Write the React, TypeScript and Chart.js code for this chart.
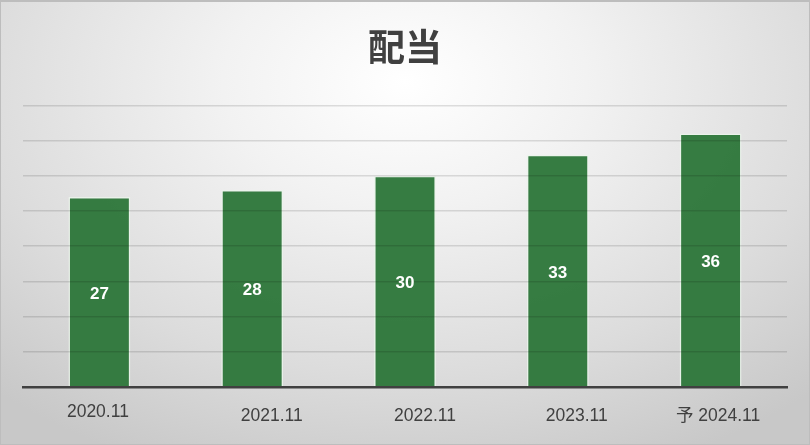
import React, { useEffect, useRef } from "react";
import { Chart, registerables } from "chart.js";

Chart.register(...registerables);

const title = "配当";
const categories = ["2020.11", "2021.11", "2022.11", "2023.11", "予 2024.11"];
const dividends = [27, 28, 30, 33, 36];
const yMax = 40;
const yStep = 5;

// label placement quirks of the original (pixels relative to the tick)
const labelShiftX = [-1.5, 19.5, 20, 19, 7.5];
const labelShiftY = [0, 4.3, 4.3, 4.3, 4.3];

export default function App() {
  const ref = useRef<HTMLCanvasElement | null>(null);

  useEffect(() => {
    document.body.style.margin = "0";
    const canvas = ref.current;
    if (!canvas) return;

    const labelPlugin = {
      id: "customLabels",
      afterDraw(chart: any) {
        const ctx = chart.ctx;
        const xs = chart.scales.x;
        ctx.save();
        ctx.fillStyle = "#404040";
        ctx.font = '17.5px "Liberation Sans", Arial, "Noto Sans CJK JP", sans-serif';
        ctx.textAlign = "center";
        ctx.textBaseline = "middle";
        categories.forEach((c, i) => {
          const x = xs.getPixelForTick(i) + labelShiftX[i];
          const y = chart.chartArea.bottom + 25 + labelShiftY[i];
          ctx.fillText(c, x, y);
        });
        const meta = chart.getDatasetMeta(0);
        ctx.fillStyle = "#ffffff";
        ctx.font = 'bold 17px "Liberation Sans", Arial, sans-serif';
        meta.data.forEach((bar: any, i: number) => {
          const { x, y, base } = bar.getProps(["x", "y", "base"], true);
          ctx.fillText(String(dividends[i]), x, (y + base) / 2 + 2.5);
        });
        ctx.restore();
      },
    };

    const chart = new Chart(canvas, {
      type: "bar",
      data: {
        labels: categories,
        datasets: [
          {
            data: dividends,
            backgroundColor: "rgba(48,120,60,0.97)",
            borderColor: "rgba(235,245,235,0.85)",
            borderWidth: { top: 1.5, left: 1.5, right: 1.5, bottom: 0 },
            borderSkipped: "bottom",
            barPercentage: 0.405,
            categoryPercentage: 1,
          },
        ],
      },
      options: {
        responsive: false,
        animation: false,
        devicePixelRatio: 1,
        layout: { padding: { left: 23, right: 23, top: 0, bottom: 0 } },
        plugins: {
          legend: { display: false },
          tooltip: { enabled: false },
          title: {
            display: true,
            text: title,
            color: "#404040",
            font: { family: '"Noto Sans CJK JP", sans-serif', size: 37, weight: "bold" },
            padding: { top: 25, bottom: 36 },
          },
        },
        scales: {
          x: {
            ticks: { display: false },
            grid: { display: false },
            border: { display: true, color: "#404040", width: 2.5, z: 1 },
            afterFit: (s: any) => {
              s.height = 58;
            },
          },
          y: {
            min: 0,
            max: yMax,
            ticks: { display: false, stepSize: yStep },
            grid: {
              z: 1,
              color: (ctx: any) => (ctx.tick && ctx.tick.value === 0 ? "rgba(0,0,0,0)" : "rgba(0,0,0,0.12)"),
              lineWidth: 1.5,
              drawTicks: false,
            },
            border: { display: false },
            afterFit: (s: any) => {
              s.width = 0;
            },
          },
        },
      },
      plugins: [labelPlugin],
    });

    return () => chart.destroy();
  }, []);

  return (
    <div
      style={{
        width: 810,
        height: 445,
        boxSizing: "border-box",
        border: "1px solid #bdbdbd",
        borderTopWidth: 2,
        background:
          "radial-gradient(ellipse 75% 95% at 50% 18%, #ffffff 0%, #f2f2f2 30%, #dcdcdc 70%, #c8c8c8 100%)",
        position: "relative",
        overflow: "hidden",
      }}
    >
      <canvas ref={ref} width={810} height={445} style={{ position: "absolute", left: -1, top: -2, display: "block" }} />
    </div>
  );
}
